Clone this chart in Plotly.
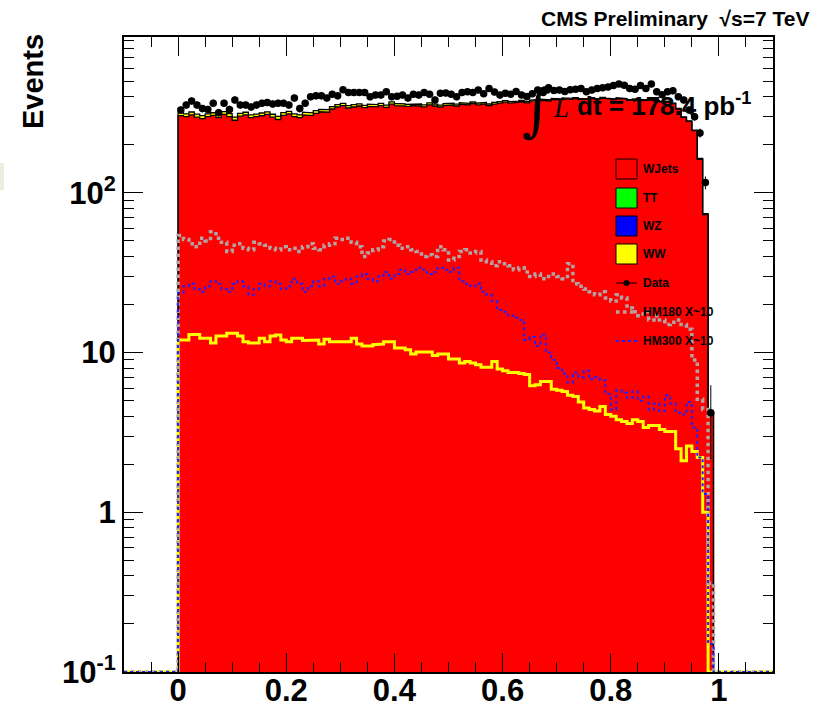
import numpy as np
import plotly.graph_objects as go

# ---------------- data ----------------
BIN_LOW = 0.0
BIN_WIDTH = 0.01
X_RANGE = [-0.1, 1.1]
Y_MIN = 0.1

wjets = [305, 300, 308, 298, 292, 300, 306, 296, 310, 300,
         285, 302, 308, 296, 300, 304, 310, 298, 288, 306,
         312, 300, 296, 308, 305, 315, 322, 320, 335, 345,
         352, 340, 345, 350, 342, 348, 346, 352, 343, 360,
         352, 350, 348, 352, 350, 346, 356, 350, 345, 352,
         355, 350, 358, 355, 362, 356, 360, 352, 360, 365,
         370, 365, 368, 372, 366, 375, 378, 380, 376, 385,
         382, 388, 385, 390, 384, 386, 390, 385, 392, 388,
         384, 390, 386, 380, 384, 380, 378, 382, 375, 370,
         372, 362, 335, 297, 280, 245, 162, 73, 4.2]

ww = [12.0, 12.0, 13.0, 13.0, 12.3, 12.3, 11.5, 12.7, 12.7, 13.2,
      13.2, 12.7, 11.7, 11.5, 11.5, 12.3, 11.7, 12.7, 12.9, 12.0,
      11.7, 12.3, 12.3, 11.9, 11.9, 12.0, 11.3, 12.1, 11.7, 11.7,
      11.7, 11.7, 12.3, 11.3, 11.0, 11.0, 11.2, 11.3, 11.7, 11.7,
      10.7, 10.7, 10.4, 9.8, 10.1, 10.1, 10.1, 9.6, 9.8, 9.8,
      9.1, 9.1, 8.6, 8.8, 8.6, 8.4, 8.1, 8.1, 8.8, 7.9,
      7.7, 7.5, 7.5, 7.4, 7.3, 6.2, 6.3, 6.6, 6.6, 5.9,
      5.8, 5.7, 5.4, 5.3, 4.9, 4.5, 4.4, 4.3, 4.6, 4.1,
      4.0, 3.8, 3.7, 3.6, 3.8, 3.7, 3.4, 3.5, 3.5, 3.3,
      3.2, 3.2, 2.5, 2.1, 2.6, 2.4, 2.2, 1.0, 0.0]

data = [330, 355, 376, 355, 337, 333, 364, 318, 364, 333,
        382, 355, 355, 345, 355, 364, 368, 360, 364, 364,
        355, 392, 337, 364, 400, 405, 405, 392, 415, 405,
        443, 425, 425, 425, 425, 400, 410, 410, 430, 400,
        403, 410, 392, 415, 410, 425, 415, 382, 420, 422,
        415, 400, 425, 430, 425, 440, 418, 450, 428, 410,
        420, 415, 432, 410, 402, 418, 440, 425, 455, 438,
        440, 432, 442, 445, 450, 430, 440, 450, 455, 460,
        470, 480, 472, 450, 445, 470, 450, 480, 430, 412,
        430, 436, 400, 382, 330, 300, 237, 116, 4.2]

hm180 = [54, 51, 48, 46, 52, 50, 57, 52, 49, 43,
         47, 48, 45, 44, 49, 48, 47, 45, 44, 46,
         44, 45, 43, 46, 48, 45, 44, 47, 48, 52,
         51, 52, 49, 46, 40, 42, 44, 46, 50, 51,
         47, 45, 46, 44, 43, 40, 41, 40, 46, 44,
         38, 40, 43, 44, 42, 43, 38, 37, 35, 37,
         36, 35, 33, 34, 32, 30, 31, 29, 30, 31,
         30, 29, 36, 27, 26, 25, 24, 23, 24, 22,
         21, 23, 22, 19, 18, 17, 18, 16, 17, 16,
         15, 15.5, 16, 15, 14, 9, 5.1, 4.4, 0.36]

hm300 = [23.6, 26, 27, 25, 24, 26, 28, 27, 25, 24,
         27, 28, 26, 23, 25, 27, 26, 28, 27, 25,
         26, 29, 27, 24, 26, 28, 26, 29, 30, 27,
         28, 29, 27, 30, 31, 29, 28, 30, 32, 29,
         31, 33, 31, 32, 34, 33, 31, 32, 34, 33,
         32, 34, 28, 27, 26, 27, 24, 23, 21, 18.5,
         18, 17, 16.5, 16, 12, 12.5, 11, 13, 10, 9,
         8, 7.4, 6.5, 7.5, 7, 7.7, 6.8, 7, 6.7, 5.5,
         4.4, 5.8, 5.6, 5.2, 5.7, 5, 5.3, 4.4, 4.8, 4.3,
         5.4, 4.8, 4.2, 4.1, 4.9, 3.4, 2.2, 1.3, 0.15]

y_tick_vals = [0.1, 1, 10, 100]
y_tick_text = ["10<sup>-1</sup>", "1", "10", "10<sup>2</sup>"]
x_tick_vals = [0, 0.2, 0.4, 0.6, 0.8, 1.0]
x_tick_text = ["0", "0.2", "0.4", "0.6", "0.8", "1"]

legend_labels = ["WJets", "TT", "WZ", "WW", "Data", "HM180 X~10", "HM300 X~10"]
legend_colors = ["#ff0000", "#00ff00", "#0000ff", "#ffff00"]

# ---------------- helpers ----------------
n = len(wjets)
edges = BIN_LOW + BIN_WIDTH * np.arange(n + 1)
centers = 0.5 * (edges[:-1] + edges[1:])


def step_path(vals):
    xs, ys = [], []
    for i, v in enumerate(vals):
        v = max(v, Y_MIN)
        xs += [edges[i], edges[i + 1]]
        ys += [v, v]
    return xs, ys


def line_path(vals):
    xs, ys = step_path(vals)
    return ([X_RANGE[0], edges[0]] + xs + [edges[-1], X_RANGE[1]],
            [Y_MIN, Y_MIN] + ys + [Y_MIN, Y_MIN])


total = [a + b for a, b in zip(wjets, ww)]

FONT = "Liberation Sans, Arial, Helvetica, sans-serif"
GREY = "#b0a4a4"
BLUE = "#2020ff"
fig = go.Figure()

# red WJets fill
sx, sy = step_path(wjets)
fig.add_trace(go.Scatter(x=[edges[0]] + sx + [edges[-1]], y=[Y_MIN] + sy + [Y_MIN],
                         fill="toself", fillcolor="#ff0000", mode="lines",
                         line=dict(width=0), hoverinfo="skip", showlegend=False))
# yellow stacked WW band
ux, uy = step_path(total)
fig.add_trace(go.Scatter(x=ux + sx[::-1], y=uy + sy[::-1],
                         fill="toself", fillcolor="#ffff00", mode="lines",
                         line=dict(width=0), hoverinfo="skip", showlegend=False))
# black outlines of the stack
for vals in (wjets, total):
    lx, ly = line_path(vals)
    fig.add_trace(go.Scatter(x=lx, y=ly, mode="lines",
                             line=dict(color="black", width=1.3),
                             hoverinfo="skip", showlegend=False))
# WW overlay line
lx, ly = line_path(ww)
fig.add_trace(go.Scatter(x=lx, y=ly, mode="lines", line=dict(color="#ffff00", width=3),
                         hoverinfo="skip", showlegend=False))
# HM180 (grey dotted)
lx, ly = line_path(hm180)
fig.add_trace(go.Scatter(x=lx, y=ly, mode="lines",
                         line=dict(color=GREY, width=3.5, dash="dot"),
                         hoverinfo="skip", showlegend=False))
# HM300 (blue dotted)
lx, ly = line_path(hm300)
fig.add_trace(go.Scatter(x=lx, y=ly, mode="lines",
                         line=dict(color=BLUE, width=2, dash="dot"),
                         hoverinfo="skip", showlegend=False))
# data
fig.add_trace(go.Scatter(x=centers, y=data, mode="markers",
                         marker=dict(color="black", size=7.5, symbol="circle"),
                         error_y=dict(type="data", array=np.sqrt(data), thickness=1,
                                      width=0, color="black"),
                         showlegend=False))

# ---------------- layout ----------------
L, R, T, B = 124, 60, 37, 35
W, H = 833, 707
PW, PH = W - L - R, H - T - B


def px(x):
    return (x - L) / PW


def py(y):
    return (H - B - y) / PH


minor_y = [m * 10 ** e for e in (-1, 0, 1, 2) for m in range(2, 10)]

fig.update_layout(
    width=W, height=H,
    margin=dict(l=L, r=R, t=T, b=B, autoexpand=False),
    paper_bgcolor="white", plot_bgcolor="white",
    showlegend=False,
    xaxis=dict(range=X_RANGE, tickmode="array", tickvals=x_tick_vals, ticktext=x_tick_text,
               automargin=False, ticklabelstandoff=-10,
               ticks="inside", ticklen=19, tickwidth=1, tickcolor="black",
               showline=True, linecolor="black", linewidth=2, mirror="ticks",
               showgrid=False, zeroline=False,
               minor=dict(tickmode="linear", tick0=0, dtick=0.05, ticks="inside",
                          ticklen=10, tickwidth=1, tickcolor="black", showgrid=False),
               tickfont=dict(family=FONT, size=31, color="black", weight="bold")),
    yaxis=dict(type="log", range=[-1, 2.976], tickmode="array", tickvals=y_tick_vals,
               ticktext=y_tick_text, automargin=False,
               ticks="inside", ticklen=19, tickwidth=1, tickcolor="black",
               showline=True, linecolor="black", linewidth=2, mirror="ticks",
               showgrid=False, zeroline=False,
               minor=dict(tickmode="array", tickvals=minor_y, ticks="inside",
                          ticklen=10, tickwidth=1, tickcolor="black", showgrid=False),
               tickfont=dict(family=FONT, size=31, color="black", weight="bold")),
)

ann = []
ann.append(dict(x=px(812), y=py(18), xref="paper", yref="paper", xanchor="right",
                yanchor="middle", showarrow=False, text="CMS Preliminary  √s=7 TeV",
                font=dict(family=FONT, size=21, color="black", weight="bold")))
ann.append(dict(x=px(33), y=py(82), xref="paper", yref="paper", xanchor="center",
                yanchor="middle", showarrow=False, text="Events", textangle=-90,
                font=dict(family=FONT, size=29, color="black", weight="bold")))
ann.append(dict(x=px(537), y=py(110), xref="paper", yref="paper", xanchor="center",
                yanchor="middle", showarrow=False, text="∫",
                font=dict(family="DejaVu Serif, serif", size=58, color="black")))
ann.append(dict(x=px(561), y=py(108), xref="paper", yref="paper", xanchor="center",
                yanchor="middle", showarrow=False, text="<i>L</i>",
                font=dict(family="Liberation Serif, serif", size=27, color="black")))
ann.append(dict(x=px(575), y=py(104), xref="paper", yref="paper", xanchor="left",
                yanchor="middle", showarrow=False, text="dt = 178.4 pb<sup>-1</sup>",
                font=dict(family=FONT, size=26, color="black", weight="bold")))

shapes = []
# legend
box_y = [169, 198, 226, 254]
for yc, col in zip(box_y, legend_colors):
    shapes.append(dict(type="rect", xref="paper", yref="paper",
                       x0=px(616), x1=px(637), y0=py(yc - 10), y1=py(yc + 10),
                       fillcolor=col, line=dict(color="black", width=1)))
text_y = box_y + [283, 312, 341]
for yc, lab in zip(text_y, legend_labels):
    ann.append(dict(x=px(641), y=py(yc), xref="paper", yref="paper", xanchor="left",
                    yanchor="middle", showarrow=False, text=lab,
                    font=dict(family=FONT, size=12, color="black", weight="bold")))
shapes.append(dict(type="line", xref="paper", yref="paper", x0=px(616), x1=px(637),
                   y0=py(283), y1=py(283), line=dict(color="black", width=1)))
shapes.append(dict(type="circle", xref="paper", yref="paper", x0=px(623.5), x1=px(629.5),
                   y0=py(280), y1=py(286), fillcolor="black", line=dict(color="black", width=0)))
shapes.append(dict(type="line", xref="paper", yref="paper", x0=px(616), x1=px(637),
                   y0=py(312), y1=py(312), line=dict(color=GREY, width=3.5, dash="dot")))
shapes.append(dict(type="line", xref="paper", yref="paper", x0=px(616), x1=px(637),
                   y0=py(341), y1=py(341), line=dict(color=BLUE, width=2, dash="dot")))
# faint artefact at the left edge
shapes.append(dict(type="rect", xref="paper", yref="paper", x0=px(0), x1=px(4),
                   y0=py(190), y1=py(163), fillcolor="#efeede", line=dict(width=0)))

fig.update_layout(annotations=ann, shapes=shapes)
fig.write_html("out.html", config={"displayModeBar": False},
               post_script="document.body.style.margin='0';document.body.style.overflow='hidden';")
